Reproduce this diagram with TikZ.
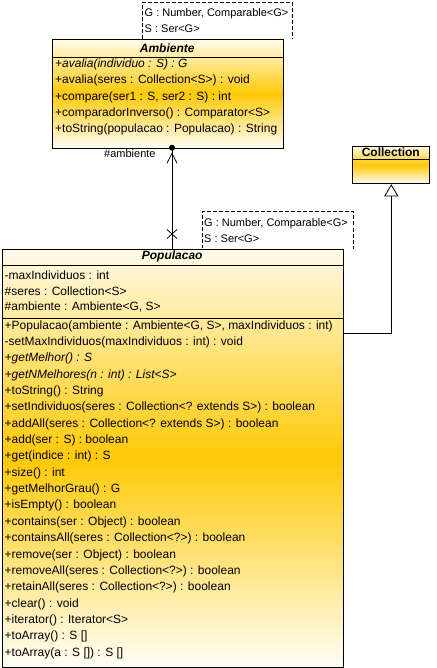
\documentclass[tikz,border=0pt]{standalone}
\usepackage{fontspec}
\setmainfont{Liberation Sans}
\usepackage{tikz}
\usetikzlibrary{calc}
\definecolor{ink}{HTML}{000000}
\definecolor{pale}{HTML}{FFFBE9}
\definecolor{gold}{HTML}{FFC907}
\definecolor{paler}{HTML}{FFFEF8}
\tikzset{
  cls/.style={draw=ink, line width=0.8pt, top color=pale, bottom color=paler, middle color=gold, inner sep=0pt, anchor=north west},
  tpl/.style={fill=white, inner sep=0pt, anchor=north west},
  tplline/.style={draw=ink, dash pattern=on 4pt off 2pt, line width=0.8pt},
  sep/.style={draw=ink, line width=0.8pt},
  link/.style={draw=ink, line width=0.8pt},
  mem/.style={anchor=west, inner sep=0pt, font=\fontsize{12}{14}\selectfont},
  small/.style={anchor=west, inner sep=0pt, font=\fontsize{11}{13}\selectfont},
  head/.style={inner sep=0pt, font=\fontsize{12}{14}\selectfont\bfseries\itshape},
  dot/.style={circle, fill=ink, inner sep=0pt, minimum size=6pt},
}

\begin{document}
\begin{tikzpicture}[x=1pt,y=-1pt]
  \useasboundingbox (0,0) rectangle (436,668);

  % template parameters of Ambiente
  \node[tpl, minimum width=149pt, minimum height=36.5pt] (ambtpl) at (142.7,2.5) {};
  \draw[tplline] (ambtpl.south west) |- (ambtpl.north east) -- (ambtpl.south east);
  \node[small] (ambg) at (144.5,13.5) {G : Number, Comparable<G>};
  \node[small] (ambs) at (144.5,28.5) {S : Ser<G>};

  % Ambiente
  \node[cls, minimum width=231pt, minimum height=108.7pt] (amb) at (51.7,39) {};
  \draw[sep] (51.7,57) -- (282.7,57);
  \node[head] (ambhead) at (167.2,48) {Ambiente};
  \node[mem] (am0) at (55,64.5) {\itshape +avalia(individuo : S) : G};
  \node[mem] (am1) at (55,80.8) {+avalia(seres : Collection<S>) : void};
  \node[mem] (am2) at (55,97.1) {+compare(ser1 : S, ser2 : S) : int};
  \node[mem] (am3) at (55,113.4) {+comparadorInverso() : Comparator<S>};
  \node[mem] (am4) at (55,129.7) {+toString(populacao : Populacao) : String};

  % Collection
  \node[cls, minimum width=77pt, minimum height=37.6pt] (coll) at (352.3,145.7) {};
  \draw[sep] (352.3,159) -- (429.3,159);
  \node[head, font=\fontsize{12}{14}\selectfont\bfseries] (collhead) at (390.8,152.5) {Collection};

  % template parameters of Populacao
  \node[tpl, minimum width=150.4pt, minimum height=37pt] (poptpl) at (202.3,211.7) {};
  \draw[tplline] (poptpl.south west) |- (poptpl.north east) -- (poptpl.south east);
  \node[small] (popg) at (204,224) {G : Number, Comparable<G>};
  \node[small] (pops) at (204,239) {S : Ser<G>};

  % Populacao
  \node[cls, minimum width=340.5pt, minimum height=418.5pt] (pop) at (2,248.5) {};
  \draw[sep] (2,265) -- (342.5,265);
  \draw[sep] (2,318.5) -- (342.5,318.5);
  \node[head] (pophead) at (172.2,256.5) {Populacao};
  \node[mem] (pa0) at (4.5,275) {-maxIndividuos : int};
  \node[mem] (pa1) at (4.5,291) {\#seres : Collection<S>};
  \node[mem] (pa2) at (4.5,307) {\#ambiente : Ambiente<G, S>};
  \foreach \t [count=\i from 0] in {
    {+Populacao(ambiente : Ambiente<G, S>, maxIndividuos : int)},
    -setMaxIndividuos(maxIndividuos : int) : void,
    {\itshape +getMelhor() : S},
    {\itshape +getNMelhores(n : int) : List<S>},
    +toString() : String,
    +setIndividuos(seres : Collection<? extends S>) : boolean,
    +addAll(seres : Collection<? extends S>) : boolean,
    +add(ser : S) : boolean,
    +get(indice : int) : S,
    +size() : int,
    +getMelhorGrau() : G,
    +isEmpty() : boolean,
    +contains(ser : Object) : boolean,
    +containsAll(seres : Collection<?>) : boolean,
    +remove(ser : Object) : boolean,
    +removeAll(seres : Collection<?>) : boolean,
    +retainAll(seres : Collection<?>) : boolean,
    +clear() : void,
    +iterator() : Iterator<S>,
    +toArray() : S [],
    +toArray(a : S []) : S []}
    \node[mem] (pm\i) at (4.5,{326+16.35*\i}) {\t};

  % association Populacao -> Ambiente
  \coordinate (ambend) at (172,147.7);
  \coordinate (popend) at (172,248.5);
  \coordinate (xmark) at (172,234);
  \draw[link] (ambend) -- (popend);
  \node[dot] (owndot) at (ambend) {};
  \draw[link] ($(ambend)+(-5,15.5)$) -- ($(ambend)+(0,5.5)$) -- ($(ambend)+(5,15.5)$);
  \draw[link] ($(xmark)+(-5,-4.5)$) -- ($(xmark)+(5,4.5)$);
  \draw[link] ($(xmark)+(-5,4.5)$) -- ($(xmark)+(5,-4.5)$);
  \node[small] (rolelab) at (104,154) {\#ambiente};

  % generalization Populacao -> Collection
  \coordinate (tipc) at (391.3,185);
  \coordinate (basec) at (391.3,196);
  \coordinate (bend) at (391.3,333.5);
  \coordinate (popside) at (342.5,333.5);
  \draw[link] (tipc) -- ($(basec)+(-6.5,0)$) -- ($(basec)+(6.5,0)$) -- cycle;
  \draw[link] (basec) -- (bend) -- (popside);
\end{tikzpicture}
\end{document}
